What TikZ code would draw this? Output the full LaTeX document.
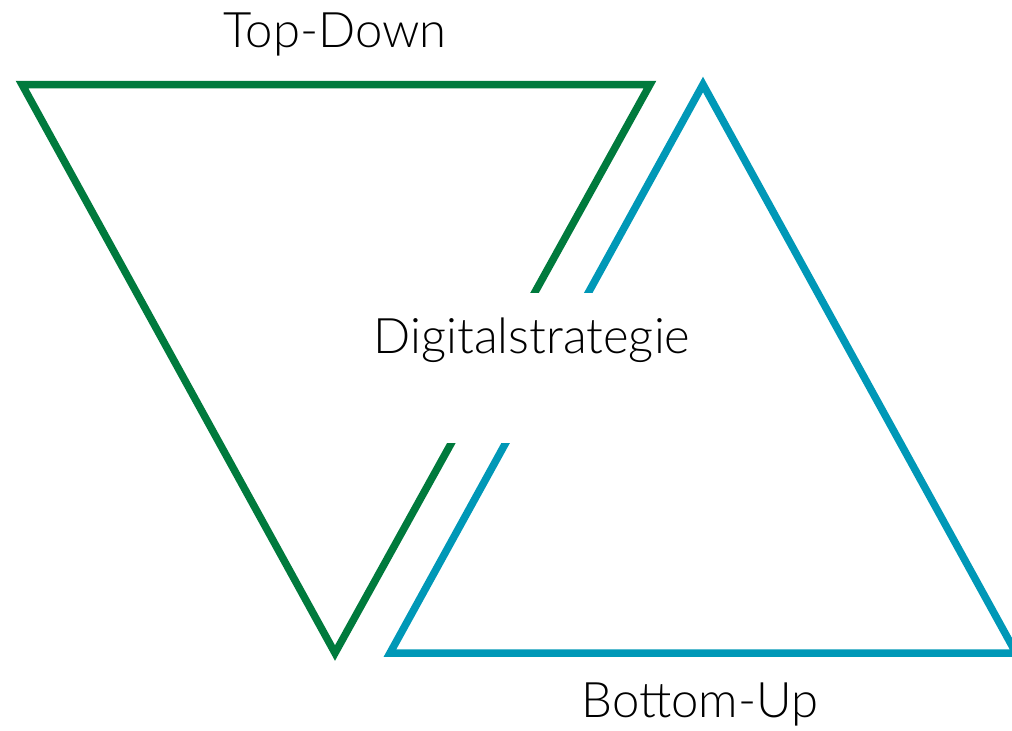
\documentclass[tikz,border=0pt]{standalone}
\usepackage{fontspec}
\setmainfont{Lato Light}
\definecolor{tdgreen}{RGB}{0,122,61}
\definecolor{bublue}{RGB}{0,152,183}
\begin{document}
\begin{tikzpicture}[x=0.5pt,y=-0.5pt]
\begin{scope}
	\tikzstyle{every node}=[font=\fontsize{24.5}{29}\selectfont, inner sep=0pt]
	\tikzstyle{edge}=[line width=3.75pt, line join=miter]
	\useasboundingbox (0,0) rectangle (1012,730);
	\clip (0,0) rectangle (1012,730);
	% triangles
	\coordinate (gl) at (22,84.5);
	\coordinate (gr) at (650,84.5);
	\coordinate (gb) at (335,653);
	\coordinate (bt) at (703,84.5);
	\coordinate (bl) at (390,653);
	\coordinate (br) at (1016,653);
	\draw [edge, tdgreen] (gl) -- (gr) -- (gb) -- cycle;
	\draw [edge, bublue] (bt) -- (br) -- (bl) -- cycle;
	% gap
	\fill [white] (430,293) rectangle (620,443);
	% labels
	\node[anchor=base] (top) at (335,47) {Top-Down};
	\node[anchor=base] (dig) at (532,353) {Digitalstrategie};
	\node[anchor=base] (bot) at (700,717) {Bottom-Up};
\end{scope}
\end{tikzpicture}
\end{document}
